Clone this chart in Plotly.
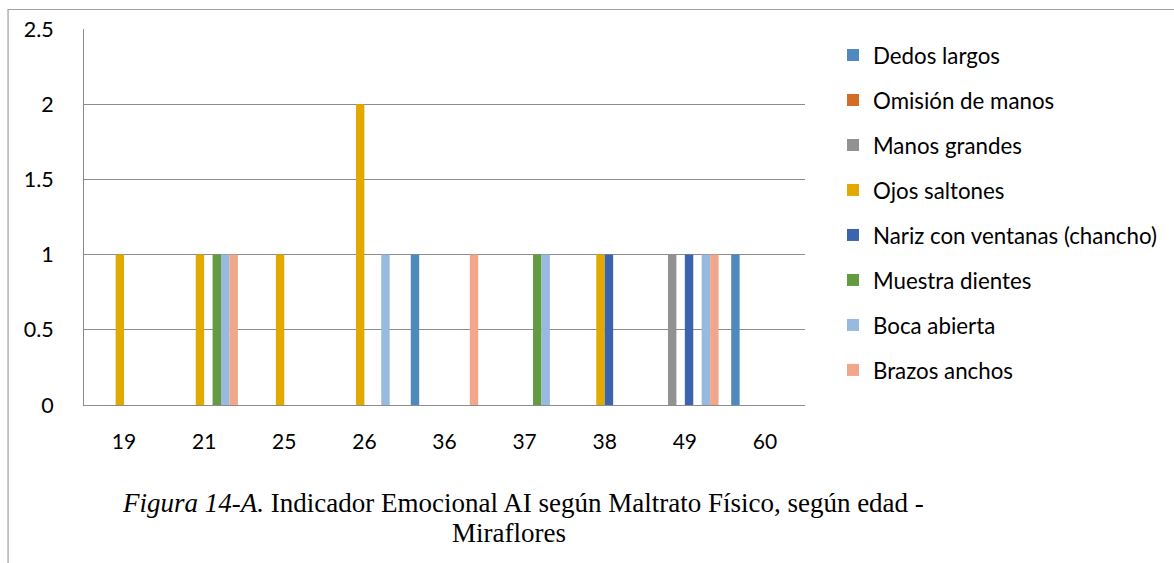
import plotly.graph_objects as go

ages = ["19", "21", "25", "26", "36", "37", "38", "49", "60"]
series_names = ["Dedos largos", "Omisión de manos", "Manos grandes", "Ojos saltones",
                "Nariz con ventanas (chancho)", "Muestra dientes", "Boca abierta", "Brazos anchos"]
dedos_largos = [0, 0, 0, 0, 1, 0, 0, 0, 1]
omision_manos = [0, 0, 0, 0, 0, 0, 0, 0, 0]
manos_grandes = [0, 0, 0, 0, 0, 0, 0, 1, 0]
ojos_saltones = [1, 1, 1, 2, 0, 0, 1, 0, 0]
nariz_ventanas = [0, 0, 0, 0, 0, 0, 1, 1, 0]
muestra_dientes = [0, 1, 0, 0, 0, 1, 0, 0, 0]
boca_abierta = [0, 1, 0, 1, 0, 1, 0, 1, 0]
brazos_anchos = [0, 1, 0, 0, 1, 0, 0, 1, 0]
colors = ["#4F89BE", "#D46C27", "#929292", "#E2AA00", "#3C64AE", "#629B41", "#98B9E0", "#F1A78A"]

values = [dedos_largos, omision_manos, manos_grandes, ojos_saltones,
          nariz_ventanas, muestra_dientes, boca_abierta, brazos_anchos]

W, H = 1174, 563
L, R, T, B = 83.5, 805, 29, 405


def px_x(x):
    return (x - L) / (R - L)


def px_y(y):
    return (B - y) / (B - T)


fig = go.Figure()
for i, (name, vals) in enumerate(zip(series_names, values)):
    fig.add_trace(go.Bar(x=ages, y=vals, name=name, marker_color=colors[i],
                         marker_line_width=0, legendgroup=f"g{i}"))

FONT = "Lato"
fig.update_layout(
    width=W, height=H,
    margin=dict(l=L, r=W - R, t=T, b=H - B, pad=0),
    paper_bgcolor="white", plot_bgcolor="white",
    barmode="group", bargap=1.5 / 9.5, bargroupgap=0,
    font=dict(family=FONT, size=21, color="#000000"),
    showlegend=True,
    legend=dict(xref="container", yref="container", x=833 / W, xanchor="left",
                y=1 - 34 / H, yanchor="top", traceorder="grouped", tracegroupgap=13,
                maxheight=1.0,
                font=dict(family=FONT, size=22.3, color="#000000"),
                bgcolor="rgba(0,0,0,0)", borderwidth=0),
    xaxis=dict(type="category", showgrid=False, showline=True, linecolor="#8C8C8C",
               linewidth=1, ticks="", ticklabelstandoff=18,
               tickfont=dict(family=FONT, size=21)),
    yaxis=dict(range=[0, 2.5], tickvals=[0, 0.5, 1, 1.5, 2, 2.5],
               ticktext=["0", "0.5", "1", "1.5", "2", "2.5"],
               showgrid=True, gridcolor="#8C8C8C", gridwidth=1,
               showline=True, linecolor="#8C8C8C", linewidth=1, zeroline=False,
               ticks="", ticklabelstandoff=25, tickfont=dict(family=FONT, size=21.5)),
)

# outer chart frame (extends beyond the visible window on right and bottom)
fig.add_shape(type="rect", xref="paper", yref="paper",
              x0=px_x(7.5), x1=px_x(W + 20),
              y0=px_y(H + 20), y1=px_y(9.5),
              line=dict(color="#A0A0A0", width=1.2), fillcolor="rgba(0,0,0,0)", layer="below")

fig.add_annotation(xref="paper", yref="paper", x=px_x(523), y=px_y(503),
                   xanchor="center", yanchor="middle", showarrow=False,
                   text="<i>Figura 14-A.</i> Indicador Emocional AI según Maltrato Físico, según edad -",
                   font=dict(family="Liberation Serif", size=27, color="#000000"))
fig.add_annotation(xref="paper", yref="paper", x=px_x(509), y=px_y(533),
                   xanchor="center", yanchor="middle", showarrow=False,
                   text="Miraflores",
                   font=dict(family="Liberation Serif", size=27, color="#000000"))

fig.write_html("out.html")
